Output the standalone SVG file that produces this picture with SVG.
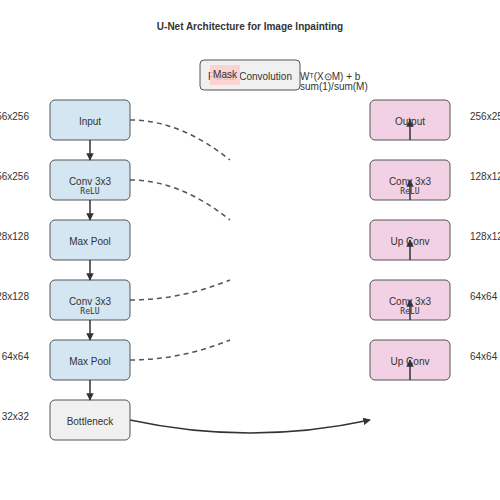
<svg xmlns="http://www.w3.org/2000/svg" width="500" height="500" viewBox="0 0 500 500">
<defs>
<marker id="ah" viewBox="0 0 10 10" refX="9" refY="5" markerWidth="5" markerHeight="5" orient="auto"><path d="M0,0 L10,5 L0,10 z" fill="#333"/></marker>
<style>
text{font-family:"Liberation Sans",Arial,sans-serif;fill:#333}
.enc{fill:#d4e6f1;stroke:#555;stroke-width:1}
.dec{fill:#f2d1e5;stroke:#555;stroke-width:1}
.bot{fill:#f0f0f0;stroke:#555;stroke-width:1}
.t{font-size:10px;text-anchor:middle}
.s{font-size:8px;text-anchor:middle;font-family:"DejaVu Sans Mono",monospace}
.dl{font-size:10px;text-anchor:end}
.dr{font-size:10px;text-anchor:start}
.arr{stroke:#333;stroke-width:1.5;fill:none;marker-end:url(#ah)}
.skip{stroke:#555;stroke-width:1.5;fill:none;stroke-dasharray:5,4}
</style>
</defs>
<rect width="500" height="500" fill="#fff"/>
<text x="250" y="30" style="font-size:10px;font-weight:bold;text-anchor:middle">U-Net Architecture for Image Inpainting</text>
<g id="legend">
<rect x="200" y="60" width="100" height="30" rx="4" fill="#f0f0f0" stroke="#555"/>
<text x="250" y="80" class="t">Partial Convolution</text>
<rect x="210" y="65" width="30" height="20" fill="#ffcccc" opacity="0.85"/>
<text x="225" y="78" class="t">Mask</text>
<text x="300" y="80" style="font-size:10px">Wᵀ(X⊙M) + b</text>
<text x="300" y="90" style="font-size:10px">sum(1)/sum(M)</text>
</g>
<g id="connectors">
<path class="skip" d="M130,120 Q180,120 230,160"/>
<path class="skip" d="M130,180 Q180,180 230,220"/>
<path class="skip" d="M130,300 Q180,300 230,280"/>
<path class="skip" d="M130,360 Q180,360 230,340"/>
<path class="arr" d="M130,420 Q250,446 370,420"/>
</g>
<g id="n_input"><rect class="enc" x="50" y="100" width="80" height="40" rx="5"/><text class="t" x="90" y="125">Input</text><text class="dl" x="29" y="120">256x256</text></g>
<g id="n_conv1"><rect class="enc" x="50" y="160" width="80" height="40" rx="5"/><text class="t" x="90" y="185">Conv 3x3</text><text class="s" x="90" y="194">ReLU</text><text class="dl" x="29" y="180">256x256</text></g>
<g id="n_pool1"><rect class="enc" x="50" y="220" width="80" height="40" rx="5"/><text class="t" x="90" y="245">Max Pool</text><text class="dl" x="29" y="240">128x128</text></g>
<g id="n_conv2"><rect class="enc" x="50" y="280" width="80" height="40" rx="5"/><text class="t" x="90" y="305">Conv 3x3</text><text class="s" x="90" y="314">ReLU</text><text class="dl" x="29" y="300">128x128</text></g>
<g id="n_pool2"><rect class="enc" x="50" y="340" width="80" height="40" rx="5"/><text class="t" x="90" y="365">Max Pool</text><text class="dl" x="29" y="360">64x64</text></g>
<g id="n_bottleneck"><rect class="bot" x="50" y="400" width="80" height="40" rx="5"/><text class="t" x="90" y="425">Bottleneck</text><text class="dl" x="29" y="420">32x32</text></g>
<g id="n_output"><rect class="dec" x="370" y="100" width="80" height="40" rx="5"/><text class="t" x="410" y="125">Output</text><text class="dr" x="470" y="120">256x256</text></g>
<g id="n_dconv1"><rect class="dec" x="370" y="160" width="80" height="40" rx="5"/><text class="t" x="410" y="185">Conv 3x3</text><text class="s" x="410" y="194">ReLU</text><text class="dr" x="470" y="180">128x128</text></g>
<g id="n_up1"><rect class="dec" x="370" y="220" width="80" height="40" rx="5"/><text class="t" x="410" y="245">Up Conv</text><text class="dr" x="470" y="240">128x128</text></g>
<g id="n_dconv2"><rect class="dec" x="370" y="280" width="80" height="40" rx="5"/><text class="t" x="410" y="305">Conv 3x3</text><text class="s" x="410" y="314">ReLU</text><text class="dr" x="470" y="300">64x64</text></g>
<g id="n_up2"><rect class="dec" x="370" y="340" width="80" height="40" rx="5"/><text class="t" x="410" y="365">Up Conv</text><text class="dr" x="470" y="360">64x64</text></g>
<g id="arrows">
<path class="arr" d="M90,140 V160"/>
<path class="arr" d="M90,200 V220"/>
<path class="arr" d="M90,260 V280"/>
<path class="arr" d="M90,320 V340"/>
<path class="arr" d="M90,380 V400"/>
<path class="arr" d="M410,140 V120"/>
<path class="arr" d="M410,200 V180"/>
<path class="arr" d="M410,260 V240"/>
<path class="arr" d="M410,320 V300"/>
<path class="arr" d="M410,380 V360"/>
</g>
</svg>
